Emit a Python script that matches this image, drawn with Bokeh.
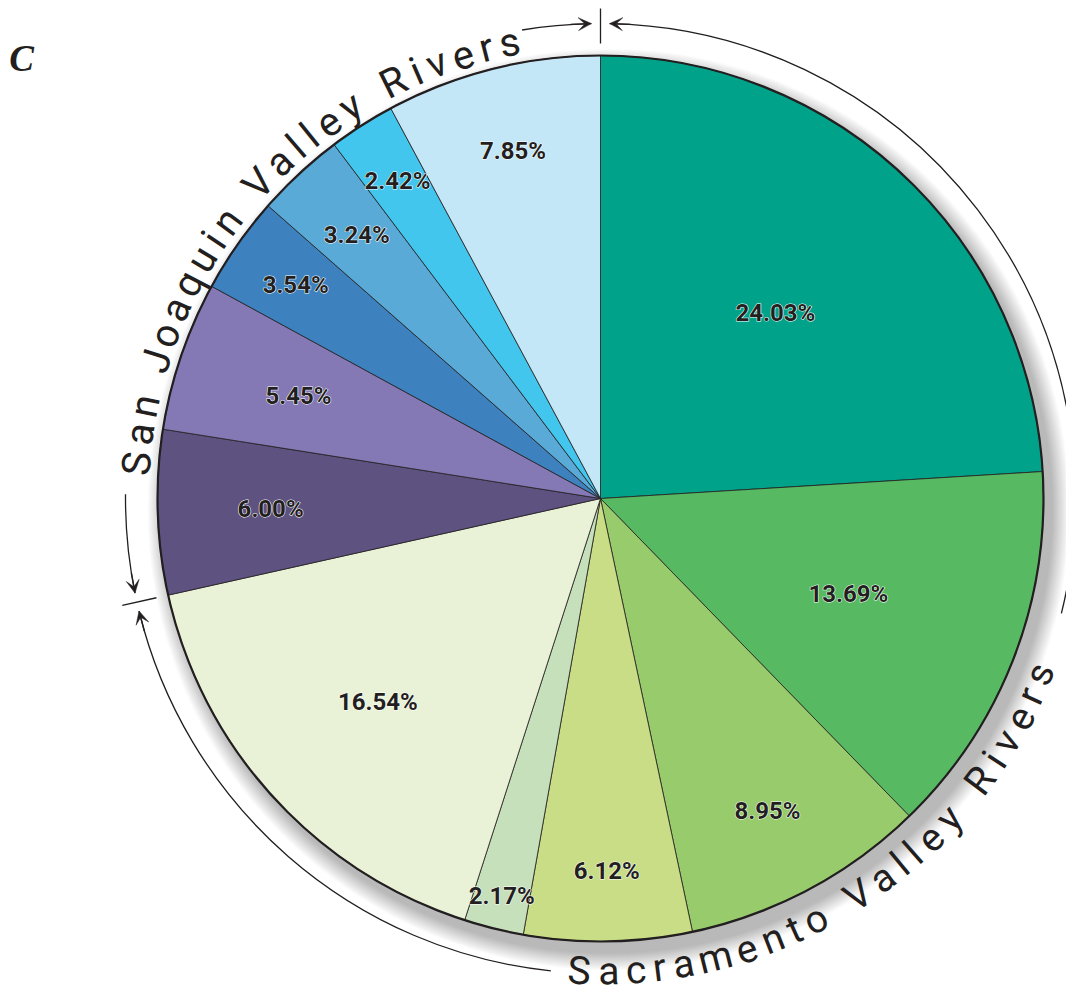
import math
import numpy as np
from bokeh.plotting import figure
from bokeh.models import Range1d, ColumnDataSource, Arrow, VeeHead
from bokeh.core.properties import value
from bokeh.embed import file_html
from bokeh.resources import INLINE

# ---------------- data ----------------
shares = [24.03, 13.69, 8.95, 6.12, 2.17, 16.54, 6.00, 5.45, 3.54, 3.24, 2.42, 7.85]
colors = ["#00a38a", "#57ba63", "#97cb6b", "#c8dd86", "#c6e0bb", "#e9f2d7",
          "#5e5281", "#8479b4", "#3d82bf", "#5aaad8", "#43c6ee", "#c4e7f7"]
group_names = ["Sacramento Valley Rivers", "San Joaquin Valley Rivers"]
group_sizes = [6, 6]
panel_letter = "C"

# ---------------- layout ----------------
label_radius = [0.576, 0.60, 0.80, 0.84, 0.925, 0.68, 0.745, 0.72, 0.84, 0.81, 0.85, 0.81]
INK = "#231f20"
FONT = value("Roboto")
W, H = 1066, 1000
cx, cy, R = 600.0, 1000.0 - 498.0, 443.0
R_ARC = 475.0

p = figure(width=W, height=H, x_range=Range1d(0, 1066), y_range=Range1d(0, 1000),
           output_backend="svg", toolbar_location=None, min_border=0)
p.axis.visible = False
p.grid.visible = False
p.outline_line_color = None
p.background_fill_color = "white"
p.border_fill_color = "white"


def pos(theta_deg, r):
    t = math.radians(theta_deg)
    return cx + r * math.sin(t), cy + r * math.cos(t)


def bang(theta_deg):
    return math.radians(90.0 - theta_deg)


# ---------------- shadow ----------------
N = 18
for i in range(N):
    rr = R + 18.0 * (1 - i / N)
    p.circle(x=cx + 8, y=cy - 11, radius=rr, fill_color="black", fill_alpha=0.014,
             line_color=None)

# ---------------- wedges ----------------
cum = np.concatenate([[0.0], np.cumsum(shares)]) / 100.0
th_start = cum[:-1] * 360.0
th_end = cum[1:] * 360.0
src = ColumnDataSource(dict(
    start=[bang(t) for t in th_start],
    end=[bang(t) for t in th_end],
    color=colors,
))
p.wedge(x=cx, y=cy, radius=R, start_angle="start", end_angle="end", direction="clock",
        fill_color="color", line_color=INK, line_width=0.8, source=src)
p.circle(x=cx, y=cy, radius=R, fill_color=None, line_color=INK, line_width=2.2)

# ---------------- slice labels ----------------
lx, ly, lt = [], [], []
for v, a, b, rf in zip(shares, th_start, th_end, label_radius):
    x, y = pos((a + b) / 2.0, rf * R)
    lx.append(x); ly.append(y); lt.append(f"{v:.2f}%")
p.text(x=lx, y=ly, text=lt, text_font=FONT, text_font_style="bold",
       text_font_size="24px", text_color="white", text_outline_color="white",
       text_align="center", text_baseline="middle")
p.text(x=lx, y=ly, text=lt, text_font=FONT, text_font_style="bold",
       text_font_size="24px", text_color=INK,
       text_align="center", text_baseline="middle")

# ---------------- group arcs, ticks, arrows ----------------
boundary = cum[group_sizes[0]] * 360.0   # Sacramento / San Joaquin split


def arc(t1, t2):
    p.arc(x=cx, y=cy, radius=R_ARC, start_angle=bang(t1), end_angle=bang(t2),
          direction="clock", line_color=INK, line_width=1.3)


def arrow(tip, sign):
    x0, y0 = pos(tip - sign * 2.5, R_ARC)
    x1, y1 = pos(tip, R_ARC)
    p.add_layout(Arrow(end=VeeHead(size=13, fill_color=INK, line_color=INK, line_width=0.5),
                       x_start=x0, y_start=y0, x_end=x1, y_end=y1,
                       line_color=INK, line_width=1.3))


def tick(theta):
    x0, y0 = pos(theta, 455)
    x1, y1 = pos(theta, 490)
    p.segment(x0=[x0], y0=[y0], x1=[x1], y1=[y1], line_color=INK, line_width=1.3)


gap = 1.1
arc(gap, 104.0)
arc(186.0, boundary - gap)
arrow(gap, -1)
arrow(boundary - gap, +1)
arc(boundary + gap, 270.5)
arc(350.5, 360 - gap)
arrow(boundary + gap, -1)
arrow(360 - gap, +1)
tick(0.0)
tick(boundary)

# ---------------- curved group titles ----------------
WID = {"S": .667, "a": .556, "n": .556, " ": .278, "J": .5, "o": .556, "q": .556,
       "u": .556, "i": .222, "V": .667, "l": .222, "e": .556, "y": .5, "R": .722,
       "v": .5, "r": .333, "s": .5, "c": .5, "m": .833, "t": .278}


def curved(text, th_first, th_last, r_base, outward_up, size):
    T = 0.32
    centers, acc = [], 0.0
    for ch in text:
        w = WID.get(ch, .55)
        centers.append(acc + w / 2.0)
        acc += w + T
    c0, c1 = centers[0], centers[-1]
    xs, ys, ang, chars = [], [], [], []
    for ch, c in zip(text, centers):
        if ch == " ":
            continue
        th = th_first + (th_last - th_first) * (c - c0) / (c1 - c0)
        x, y = pos(th, r_base)
        rot = -th if outward_up else 180.0 - th
        xs.append(x); ys.append(y); ang.append(math.radians(rot)); chars.append(ch)
    p.text(x=xs, y=ys, text=chars, angle=ang, text_font=FONT,
           text_font_size=size, text_color=INK, text_align="center",
           text_baseline="alphabetic")


curved(group_names[1], 274.3, 348.7, 465.0, True, "40px")
curved(group_names[0], 182.6, 111.8, 473.0, False, "39px")

# ---------------- panel letter ----------------
p.text(x=[21], y=[1000 - 58], text=[panel_letter], text_font=value("Liberation Serif"),
       text_font_style="bold italic", text_font_size="37px", text_color=INK,
       text_align="center", text_baseline="middle")

open("out.html", "w").write(file_html(p, INLINE))
